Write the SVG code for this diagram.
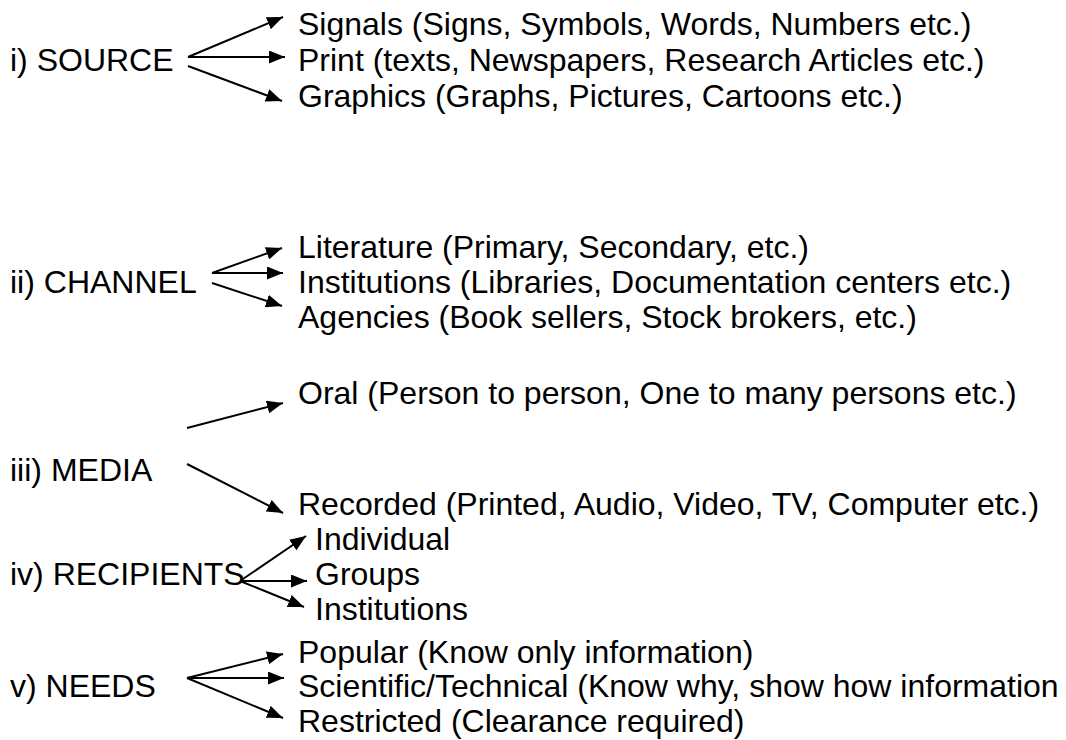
<svg xmlns="http://www.w3.org/2000/svg" width="1066" height="740" viewBox="0 0 1066 740">
  <style>
    text { font-family: "Liberation Sans", Arial, sans-serif; font-size: 32px; fill: #000; }
    .link { stroke: #000; stroke-width: 2; fill: none; marker-end: url(#head); }
  </style>
  <defs>
    <marker id="head" markerUnits="userSpaceOnUse" markerWidth="16" markerHeight="13" refX="16" refY="6.5" orient="auto">
      <path d="M0,0 L16,6.5 L0,13 z" fill="#000"/>
    </marker>
  </defs>
  <rect width="1066" height="740" fill="#fff"/>

  <!-- i) SOURCE -->
  <g id="source">
    <text x="10" y="71">i) SOURCE</text>
    <text x="298" y="35">Signals (Signs, Symbols, Words, Numbers etc.)</text>
    <text x="298" y="71">Print (texts, Newspapers, Research Articles etc.)</text>
    <text x="298" y="107">Graphics (Graphs, Pictures, Cartoons etc.)</text>
  </g>

  <!-- ii) CHANNEL -->
  <g id="channel">
    <text x="10" y="293">ii) CHANNEL</text>
    <text x="298" y="258">Literature (Primary, Secondary, etc.)</text>
    <text x="298" y="293">Institutions (Libraries, Documentation centers etc.)</text>
    <text x="298" y="328">Agencies (Book sellers, Stock brokers, etc.)</text>
  </g>

  <!-- iii) MEDIA -->
  <g id="media">
    <text x="10" y="481">iii) MEDIA</text>
    <text x="298" y="404">Oral (Person to person, One to many persons etc.)</text>
    <text x="298" y="515">Recorded (Printed, Audio, Video, TV, Computer etc.)</text>
  </g>

  <!-- iv) RECIPIENTS -->
  <g id="recipients">
    <text x="10" y="585">iv) RECIPIENTS</text>
    <text x="315" y="550">Individual</text>
    <text x="315" y="585">Groups</text>
    <text x="315" y="620">Institutions</text>
  </g>

  <!-- v) NEEDS -->
  <g id="needs">
    <text x="10" y="697">v) NEEDS</text>
    <text x="298" y="663">Popular (Know only information)</text>
    <text x="298" y="697">Scientific/Technical (Know why, show how information</text>
    <text x="298" y="732">Restricted (Clearance required)</text>
  </g>

  <!-- connectors -->
  <g id="connectors">
    <line class="link" x1="188" y1="57" x2="283" y2="17"/>
    <line class="link" x1="188" y1="57" x2="285" y2="57"/>
    <line class="link" x1="188" y1="66" x2="282" y2="101"/>

    <line class="link" x1="212" y1="273" x2="282" y2="248"/>
    <line class="link" x1="212" y1="273" x2="283" y2="273"/>
    <line class="link" x1="212" y1="283" x2="282" y2="306"/>

    <line class="link" x1="187" y1="428" x2="283" y2="403"/>
    <line class="link" x1="187" y1="464" x2="283" y2="513"/>

    <line class="link" x1="240" y1="581" x2="306" y2="536"/>
    <line class="link" x1="240" y1="581" x2="307" y2="581"/>
    <line class="link" x1="240" y1="581" x2="304" y2="607"/>

    <line class="link" x1="187" y1="678" x2="283" y2="654"/>
    <line class="link" x1="187" y1="678" x2="284" y2="678"/>
    <line class="link" x1="187" y1="678" x2="283" y2="718"/>
  </g>
</svg>
